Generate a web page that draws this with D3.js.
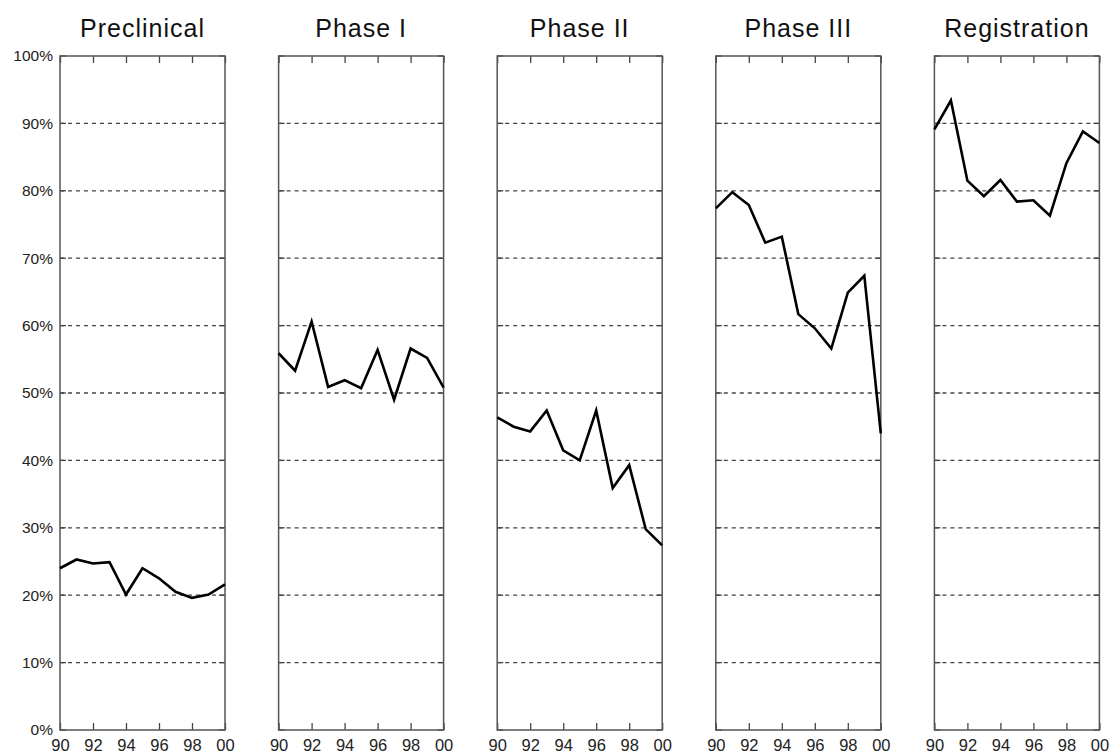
<!DOCTYPE html>
<html>
<head>
<meta charset="utf-8">
<script src="https://cdn.jsdelivr.net/npm/d3@7"></script>
<style>
  body { margin: 0; background: #fff; }
  svg { display: block; }
  .tick text { font-family: Arial, "Liberation Sans", sans-serif; fill: #222; }
</style>
</head>
<body>
<div id="chart"></div>
<script>
// data (success rate by year, %)
var years = [1990, 1991, 1992, 1993, 1994, 1995, 1996, 1997, 1998, 1999, 2000];
var stages = ["Preclinical", "Phase I", "Phase II", "Phase III", "Registration"];
var preclinical  = [24.0, 25.3, 24.7, 24.9, 20.1, 24.0, 22.5, 20.5, 19.6, 20.1, 21.6];
var phase1       = [55.9, 53.3, 60.6, 50.9, 51.9, 50.7, 56.4, 49.0, 56.6, 55.2, 50.8];
var phase2       = [46.4, 45.0, 44.3, 47.4, 41.5, 40.0, 47.4, 35.9, 39.3, 29.8, 27.4];
var phase3       = [77.4, 79.8, 77.9, 72.3, 73.2, 61.7, 59.6, 56.6, 64.9, 67.4, 44.0];
var registration = [89.1, 93.4, 81.5, 79.2, 81.6, 78.4, 78.6, 76.3, 84.1, 88.8, 87.1];
var yTicks = [0, 10, 20, 30, 40, 50, 60, 70, 80, 90, 100];
var xTicks = [1990, 1992, 1994, 1996, 1998, 2000];

var series = [preclinical, phase1, phase2, phase3, registration];

var width = 1110, height = 754;
var plotTop = 56, plotBottom = 730;
var panelLeft = 60, panelW = 165, panelStep = 218.6;

var svg = d3.select("#chart").append("svg")
  .attr("width", width)
  .attr("height", height);

var y = d3.scaleLinear().domain([0, 100]).range([plotBottom, plotTop]);

series.forEach(function (vals, i) {
  var x0 = panelLeft + i * panelStep;
  var x = d3.scaleLinear().domain([1990, 2000]).range([x0, x0 + panelW]);
  var g = svg.append("g");

  // dashed grid
  g.append("g").selectAll("line")
    .data(yTicks.filter(function (t) { return t > 0 && t < 100; }))
    .join("line")
    .attr("x1", x0).attr("x2", x0 + panelW)
    .attr("y1", function (d) { return y(d); })
    .attr("y2", function (d) { return y(d); })
    .attr("stroke", "#444")
    .attr("stroke-width", 1.3)
    .attr("stroke-dasharray", "4,4");

  // inner ticks on left/right
  [x0, x0 + panelW].forEach(function (xx, k) {
    g.append("g").selectAll("line")
      .data(yTicks)
      .join("line")
      .attr("x1", xx).attr("x2", k === 0 ? xx + 6 : xx - 6)
      .attr("y1", function (d) { return y(d); })
      .attr("y2", function (d) { return y(d); })
      .attr("stroke", "#444")
      .attr("stroke-width", 1.3);
  });

  // bottom axis with labels
  var xAxis = d3.axisBottom(x).tickValues(xTicks)
    .tickSize(-7).tickPadding(21)
    .tickFormat(function (d) { return d3.format("02")(d % 100); });
  var gx = g.append("g").attr("transform", "translate(0," + plotBottom + ")").call(xAxis);
  gx.select(".domain").remove();
  gx.selectAll(".tick line").attr("stroke", "#444").attr("stroke-width", 1.3);
  gx.selectAll(".tick text").attr("font-size", 16.5).attr("dy", "0");

  // top ticks
  var xTop = d3.axisTop(x).tickValues(xTicks).tickSize(-7).tickFormat("");
  var gt = g.append("g").attr("transform", "translate(0," + plotTop + ")").call(xTop);
  gt.select(".domain").remove();
  gt.selectAll(".tick line").attr("stroke", "#444").attr("stroke-width", 1.3);

  // frame
  g.append("rect")
    .attr("x", x0).attr("y", plotTop)
    .attr("width", panelW).attr("height", plotBottom - plotTop)
    .attr("fill", "none")
    .attr("stroke", "#555")
    .attr("stroke-width", 1.5);

  // the line
  var line = d3.line()
    .x(function (d, j) { return x(years[j]); })
    .y(function (d) { return y(d); });
  g.append("path")
    .datum(vals)
    .attr("d", line)
    .attr("fill", "none")
    .attr("stroke", "#000")
    .attr("stroke-width", 2.6)
    .attr("stroke-linejoin", "miter");

  // title
  g.append("text")
    .attr("x", x0 + panelW / 2)
    .attr("y", 37)
    .attr("text-anchor", "middle")
    .attr("font-family", "Arial, 'Liberation Sans', sans-serif")
    .attr("font-size", 25)
    .attr("letter-spacing", 1)
    .attr("fill", "#111")
    .text(stages[i]);

  // y labels only on first panel
  if (i === 0) {
    var yAxis = d3.axisLeft(y).tickValues(yTicks).tickSize(0).tickPadding(7)
      .tickFormat(function (d) { return d + "%"; });
    var gy = g.append("g").attr("transform", "translate(" + x0 + ",0)").call(yAxis);
    gy.select(".domain").remove();
    gy.selectAll(".tick text").attr("font-size", 15.5);
  }
});
</script>
</body>
</html>
